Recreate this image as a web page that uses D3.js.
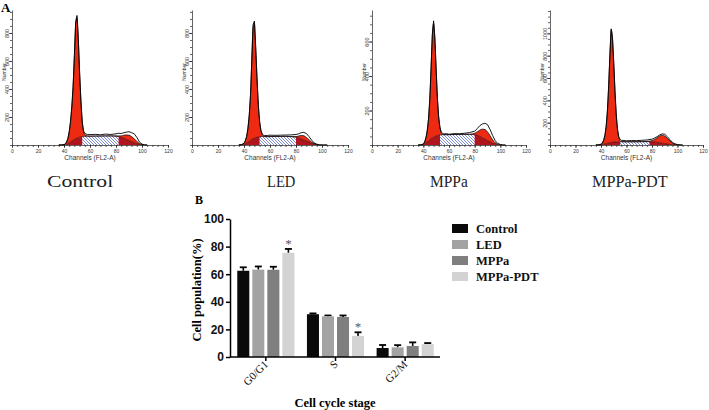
<!DOCTYPE html>
<html><head><meta charset="utf-8">
<script src="https://cdn.jsdelivr.net/npm/d3@7/dist/d3.min.js"></script>
<style>body{margin:0;background:#fff}svg{display:block}</style>
</head><body><svg id="c" width="709" height="410"></svg>
<script>
// ---------- Panel A data (flow cytometry histograms) ----------
const panels = ["Control", "LED", "MPPa", "MPPa-PDT"];
const channels = [36,38,40,41,42,43,44,45,46,47,48,49,50,51,52,53,54,55,56,58,60,64,68,72,76,80,82,84,86,88,90,92,94,96,98,100,102,104];

const ctrlG1  = [0,0,2,6,15,35,75,140,240,380,600,820,860,700,460,260,110,40,12,2,0,0,0,0,0,0,0,0,0,0,0,0,0,0,0,0,0,0];
const ctrlS   = [0,0,0,2,5,10,16,22,28,34,40,45,50,53,56,58,60,61,62,63,63,64,64,65,65,63,60,55,48,40,32,24,16,10,5,2,0,0];
const ctrlG2  = [0,0,0,0,0,0,0,0,0,0,0,0,0,0,0,0,0,0,0,0,0,0,0,0,0,2,5,10,22,32,38,36,28,16,6,2,0,0];
const ctrlRaw = [0,0,3,8,22,48,95,170,275,420,640,880,925,760,520,320,170,100,82,75,74,76,73,78,75,80,84,82,88,92,95,88,80,55,22,6,2,0];

const ledG1  = [0,2,8,20,45,95,180,320,560,800,820,640,420,230,110,45,15,4,0,0,0,0,0,0,0,0,0,0,0,0,0,0,0,0,0,0,0,0];
const ledS   = [0,0,3,8,14,20,27,34,40,45,48,52,55,57,58,59,60,60,60,60,60,61,61,62,60,55,50,44,36,28,20,12,6,2,0,0,0,0];
const ledG2  = [0,0,0,0,0,0,0,0,0,0,0,0,0,0,0,0,0,0,0,0,0,0,0,0,0,5,14,24,30,26,18,9,4,1,0,0,0,0];
const ledRaw = [0,3,12,30,62,118,210,360,610,860,885,700,480,290,170,105,78,70,68,68,70,69,70,71,72,75,80,88,90,82,60,35,15,6,2,0,0,0];

const mppaG1  = [0,0,3,10,28,60,120,230,400,590,660,560,380,210,100,40,12,3,0,0,0,0,0,0,0,0,0,0,0,0,0,0,0,0,0,0,0,0];
const mppaS   = [0,0,2,6,12,18,24,30,36,41,45,49,52,55,57,58,59,60,60,60,60,61,62,62,62,60,56,50,42,34,26,18,10,5,2,0,0,0];
const mppaG2  = [0,0,0,0,0,0,0,0,0,0,0,0,0,0,0,0,0,0,0,0,0,0,0,0,0,8,20,36,50,56,50,36,20,8,3,1,0,0];
const mppaRaw = [0,1,6,18,42,82,150,265,445,640,720,620,440,270,160,100,75,68,64,66,62,66,65,68,72,80,95,112,122,126,118,90,55,25,9,3,0,0];

const pdtG1  = [0,0,4,12,32,70,145,280,500,780,1010,930,700,440,230,100,36,10,2,0,0,0,0,0,0,0,0,0,0,0,0,0,0,0,0,0,0,0];
const pdtS   = [0,0,1,3,6,9,12,15,18,20,22,24,26,27,28,28,29,29,29,29,29,29,29,30,30,29,27,24,20,16,12,8,5,2,1,0,0,0];
const pdtG2  = [0,0,0,0,0,0,0,0,0,0,0,0,0,0,0,0,0,0,0,0,0,0,0,0,2,10,22,40,60,72,68,52,32,15,6,2,0,0];
const pdtRaw = [0,2,7,18,42,85,165,305,530,820,1040,960,740,480,270,140,72,50,42,40,38,40,39,42,45,52,62,75,90,100,96,75,48,24,10,4,1,0];

const histG1  = [ctrlG1, ledG1, mppaG1, pdtG1];
const histS   = [ctrlS, ledS, mppaS, pdtS];
const histG2  = [ctrlG2, ledG2, mppaG2, pdtG2];
const histRaw = [ctrlRaw, ledRaw, mppaRaw, pdtRaw];
const sPhaseRange = [[54,82],[52,80],[53,80],[55,78]];   // channels where S is shown hatched
const histYMax = [964, 964, 783, 1209];
const histYTicks = [[200,400,600,800],[200,400,600,800],[200,400,600],[200,400,600,800,1000]];
const xTickLabels = [0,20,40,60,80,100,120];

// ---------- Panel B data (bar chart) ----------
const stages = ["G0/G1", "S", "G2/M"];
const series = ["Control", "LED", "MPPa", "MPPa-PDT"];
const controlMean = [62.5, 31, 6.5];
const ledMean     = [63.3, 29.5, 7];
const mppaMean    = [63.2, 29, 8];
const pdtMean     = [75.5, 15.3, 9.3];
const controlErr  = [2.5, 0.6, 2.2];
const ledErr      = [2.3, 0.6, 1.6];
const mppaErr     = [2.2, 1.1, 2.6];
const pdtErr      = [2.8, 2.6, 0.8];
const yTicksB = [0, 20, 40, 60, 80, 100];
const significant = [[false,false,false,true],[false,false,false,true],[false,false,false,false]];

// ---------- layout / style ----------
const panelX0 = [12, 192, 372, 550], panelX1 = [168, 348, 526, 703];
const hBase = 145, hTop = 10;
const labelX = [47, 267, 430, 592];
const barColors = ["#0a0a0a", "#a3a3a3", "#7f7f7f", "#d3d3d3"];

const svg = d3.select("#c");
const defs = svg.append("defs");
const pat = defs.append("pattern").attr("id","hatch").attr("patternUnits","userSpaceOnUse")
  .attr("width",3).attr("height",3);
pat.append("rect").attr("width",3).attr("height",3).attr("fill","#fff");
pat.append("path").attr("d","M-1,-1L4,4M-1,2L1,4M2,-1L4,1").attr("stroke","#5b6fd2").attr("stroke-width",0.8);

svg.append("text").attr("x",1).attr("y",12).text("A")
  .attr("font-family","Liberation Serif").attr("font-weight","bold").attr("font-size",13);

panels.forEach((name, i) => {
  const x = d3.scaleLinear().domain([0,120]).range([panelX0[i], panelX1[i]]);
  const y = d3.scaleLinear().domain([0, histYMax[i]]).range([hBase, hTop]);
  const pts = channels.map((c,k) => ({c, s: histS[i][k], g1: histG1[i][k], g2: histG2[i][k], raw: histRaw[i][k]}));
  const g = svg.append("g");
  const cv = d3.curveMonotoneX;

  g.append("path").datum(pts)
    .attr("d", d3.area().x(d=>x(d.c)).y0(y(0)).y1(d=>y(d.s)).curve(cv))
    .attr("fill", "#b0141c");
  const cid = "clipS" + i;
  defs.append("clipPath").attr("id", cid).append("rect")
    .attr("x", x(sPhaseRange[i][0])).attr("width", x(sPhaseRange[i][1]) - x(sPhaseRange[i][0]))
    .attr("y", 0).attr("height", 200);
  g.append("path").datum(pts)
    .attr("d", d3.area().x(d=>x(d.c)).y0(y(0)).y1(d=>y(d.s)).curve(cv))
    .attr("fill", "url(#hatch)").attr("clip-path", `url(#${cid})`);
  g.append("path").datum(pts)
    .attr("d", d3.area().x(d=>x(d.c)).y0(d=>y(d.s)).y1(d=>y(d.s+d.g1)).curve(cv))
    .attr("fill", "#ee2a12");
  g.append("path").datum(pts)
    .attr("d", d3.area().x(d=>x(d.c)).y0(d=>y(d.s)).y1(d=>y(d.s+d.g2)).curve(cv))
    .attr("fill", "#ee2a12");
  g.append("path").datum(pts.filter(d=>d.s>0 || d.c<60))
    .attr("d", d3.line().x(d=>x(d.c)).y(d=>y(d.s)).curve(cv))
    .attr("fill","none").attr("stroke","#3a0a0a").attr("stroke-width",0.7);
  g.append("path").datum(pts)
    .attr("d", d3.line().x(d=>x(d.c)).y(d=>y(d.s+d.g1+d.g2)).curve(cv))
    .attr("fill","none").attr("stroke","#111").attr("stroke-width",0.8);
  g.append("path").datum(pts)
    .attr("d", d3.line().x(d=>x(d.c)).y(d=>y(d.raw)).curve(d3.curveLinear))
    .attr("fill","none").attr("stroke","#000").attr("stroke-width",0.9);

  // axes
  const ax = g.append("g").attr("transform", `translate(0,${hBase})`);
  ax.call(d3.axisBottom(x).tickValues(d3.range(0,121,4)).tickSize(2).tickSizeOuter(0).tickFormat(""));
  const axL = g.append("g").attr("transform", `translate(0,${hBase})`)
    .call(d3.axisBottom(x).tickValues(xTickLabels).tickSize(3).tickSizeOuter(0).tickPadding(1));
  axL.select(".domain").remove();
  axL.selectAll("text").attr("font-size",5).attr("font-family","Liberation Sans").attr("fill","#333");

  const ay = g.append("g").attr("transform", `translate(${panelX0[i]},0)`);
  ay.call(d3.axisLeft(y).tickValues(d3.range(0, histYMax[i], 50)).tickSize(2).tickSizeOuter(0).tickFormat(""));
  const ayL = g.append("g").attr("transform", `translate(${panelX0[i]},0)`)
    .call(d3.axisLeft(y).tickValues(histYTicks[i]).tickSize(3).tickSizeOuter(0).tickFormat(d3.format("d")));
  ayL.select(".domain").remove();
  ayL.selectAll("text").attr("transform","rotate(-90)").attr("x",0).attr("y",-3.5).attr("dy",0)
    .attr("text-anchor","middle").attr("font-size",5.5).attr("font-family","Liberation Sans").attr("fill","#333");
  g.selectAll(".domain, .tick line").attr("stroke","#222").attr("stroke-width",0.7);

  g.append("text").attr("x", x(60)).attr("y", 160).attr("text-anchor","middle")
    .attr("font-family","Liberation Sans").attr("font-size",6.5).attr("fill","#333").text("Channels  (FL2-A)");
  g.append("text").attr("transform", `translate(${panelX0[i]-6},${72}) rotate(-90)`).attr("text-anchor","middle")
    .attr("font-family","Liberation Sans").attr("font-size",5).attr("fill","#333").text("Number");

  svg.append("text").attr("x", labelX[i]).attr("y", 187).text(name)
    .attr("font-family","Liberation Serif").attr("font-size",17)
    .attr("textLength", name.length * 9.45).attr("lengthAdjust","spacingAndGlyphs").attr("fill","#222");
});

// ---------- Panel B ----------
svg.append("text").attr("x",195).attr("y",204).text("B")
  .attr("font-family","Liberation Serif").attr("font-weight","bold").attr("font-size",12);

const means = [controlMean, ledMean, mppaMean, pdtMean];
const errs = [controlErr, ledErr, mppaErr, pdtErr];
const x0 = d3.scaleBand().domain(stages).range([231, 440]).paddingInner(0.18).paddingOuter(0.09);
const x1 = d3.scaleBand().domain(series).range([0, x0.bandwidth()]).paddingInner(0.2);
const yb = d3.scaleLinear().domain([0,100]).range([357, 219]);

const gb = svg.append("g");
stages.forEach((st, si) => {
  series.forEach((se, k) => {
    const v = means[k][si], e = errs[k][si];
    const bx = x0(st) + x1(se), bw = x1.bandwidth(), cx = bx + bw/2;
    gb.append("line").attr("x1",cx).attr("x2",cx).attr("y1",yb(v)).attr("y2",yb(v+e))
      .attr("stroke","#000").attr("stroke-width",1.6);
    gb.append("line").attr("x1",cx-3.5).attr("x2",cx+3.5).attr("y1",yb(v+e)).attr("y2",yb(v+e))
      .attr("stroke","#000").attr("stroke-width",1.8);
    gb.append("rect").attr("x",bx).attr("width",bw).attr("y",yb(v)).attr("height",yb(0)-yb(v))
      .attr("fill",barColors[k]);
    if (significant[si][k]) {
      gb.append("text").attr("x",cx).attr("y",yb(v+e)-1).attr("text-anchor","middle")
        .attr("font-family","Liberation Serif").attr("font-size",13).attr("fill","#555").text("*");
    }
  });
});

const yAx = svg.append("g").attr("transform","translate(230,0)")
  .call(d3.axisLeft(yb).tickValues(yTicksB).tickSize(4).tickSizeOuter(0).tickPadding(2));
yAx.selectAll("text").attr("font-family","Liberation Sans").attr("font-weight","bold").attr("font-size",12).attr("fill","#111");
yAx.selectAll(".domain, .tick line").attr("stroke","#000").attr("stroke-width",1.5);

const xAx = svg.append("g").attr("transform","translate(0,357)")
  .call(d3.axisBottom(x0).tickSize(4).tickSizeOuter(0));
xAx.select(".domain").attr("d","M230,0H440");
xAx.selectAll(".domain, .tick line").attr("stroke","#000").attr("stroke-width",1.5);
xAx.selectAll("text").attr("text-anchor","end").attr("y",0).attr("dy",0)
  .attr("transform","translate(3,8) rotate(-45)")
  .attr("font-family","Liberation Serif").attr("font-size",11).attr("fill","#111");

svg.append("text").attr("transform","translate(201,290) rotate(-90)").attr("text-anchor","middle")
  .attr("font-family","Liberation Serif").attr("font-weight","bold").attr("font-size",12.5).text("Cell population(%)");
svg.append("text").attr("x",335).attr("y",407).attr("text-anchor","middle")
  .attr("font-family","Liberation Serif").attr("font-weight","bold").attr("font-size",12.5).text("Cell cycle stage");

const lg = svg.append("g");
series.forEach((se, k) => {
  lg.append("rect").attr("x",452).attr("y",224 + k*16).attr("width",16).attr("height",9).attr("fill",barColors[k]);
  lg.append("text").attr("x",476).attr("y",233 + k*16).text(se)
    .attr("font-family","Liberation Serif").attr("font-weight","bold").attr("font-size",12.5).attr("fill","#111");
});
</script></body></html>
